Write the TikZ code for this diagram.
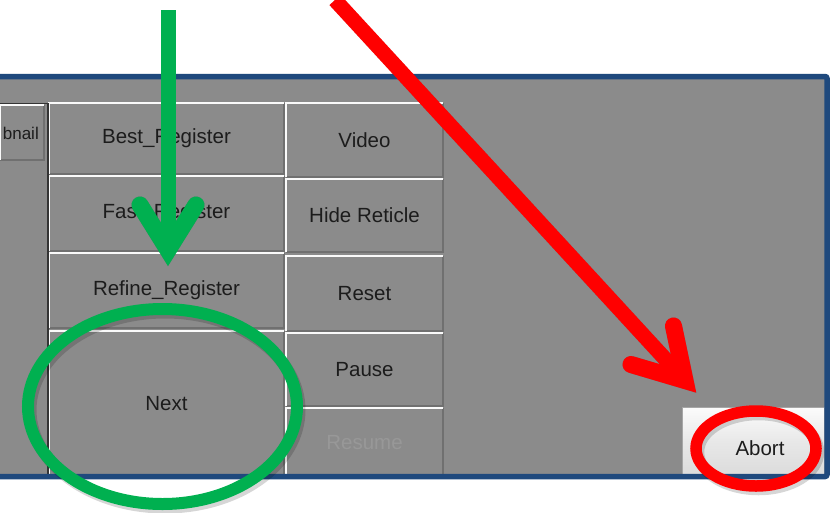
\documentclass[tikz,border=0pt]{standalone}
\usepackage{fontspec}
\setmainfont{Liberation Sans}
\usetikzlibrary{shapes.geometric}

\definecolor{panelgray}{RGB}{139,139,139}
\definecolor{panelblue}{RGB}{31,73,125}
\definecolor{edgedark}{RGB}{112,112,112}
\definecolor{framedark}{RGB}{52,52,52}
\definecolor{labeltext}{RGB}{28,28,28}
\definecolor{greyedtext}{RGB}{152,152,152}
\definecolor{markgreen}{RGB}{0,176,80}
\definecolor{markred}{RGB}{255,0,0}

\tikzset{
  btn/.style={rectangle, fill=panelgray, inner sep=0pt, outer sep=0pt,
    text=labeltext, font=\fontsize{20.5}{24}\selectfont},
  lightedge/.style={draw=white!96!gray, line width=1.6pt},
  darkedge/.style={draw=edgedark, line width=1.1pt},
  markshadow/.style={draw=black, opacity=0.16},
  arrowhead/.style={line width=17pt, line cap=round, line join=miter},
}

\begin{document}
\begin{tikzpicture}[x=1pt,y=-1pt]
\useasboundingbox (0,0) rectangle (833,512);
\fill[white] (0,0) rectangle (833,512);

% window background
\fill[panelgray] (-10,76.5) rectangle (827,476.5);

% partly hidden thumbnail button on the far left
\node[btn, minimum width=44, minimum height=55,
      font=\fontsize{17}{20}\selectfont] (thumb) at (22,132.5) {};
\node[anchor=east, inner sep=0pt, text=labeltext,
      font=\fontsize{17}{20}\selectfont] (thumbtext) at (39,133) {bnail};

% first column of buttons
\node[btn, minimum width=235, minimum height=71] (best)   at (166.5,138.5) {Best\_Register};
\node[btn, minimum width=235, minimum height=75] (fast)   at (166.5,213.5) {Fast\_Register};
\node[btn, minimum width=235, minimum height=75] (refine) at (166.5,290.5) {Refine\_Register};
\node[btn, minimum width=235, minimum height=146] (next)  at (166.5,404)   {Next};

% second column of buttons
\node[btn, minimum width=157, minimum height=74] (video)  at (364.5,140)   {Video};
\node[btn, minimum width=157, minimum height=73] (hide)   at (364.5,215.5) {Hide Reticle};
\node[btn, minimum width=157, minimum height=75] (reset)  at (364.5,293.5) {Reset};
\node[btn, minimum width=157, minimum height=73] (pause)  at (364.5,369.5) {Pause};
\node[btn, minimum width=157, minimum height=69, text=greyedtext] (resume) at (364.5,442.5) {Resume};

% raised 3D edges of the buttons
\foreach \b in {thumb,best,fast,refine,next,video,hide,reset,pause,resume}{
  \draw[darkedge] (\b.north east) -- (\b.south east) -- (\b.south west);
  \draw[lightedge] (\b.south west) -- (\b.north west) -- (\b.north east);
}

% dark frame between thumbnail area and button columns
\draw[framedark, line width=0.9pt] (0,103.5) -- (48,103.5);
\draw[framedark, line width=2pt] (48,103) -- (48,476);

% Abort button
\node[rectangle, inner sep=0pt, outer sep=0pt, draw=gray!70, line width=1pt,
      top color=white!97!gray, bottom color=gray!28, middle color=gray!18,
      minimum width=142, minimum height=68, text=labeltext,
      font=\fontsize{20.5}{24}\selectfont] (abort) at (753,441.5) {};
\node[inner sep=0pt, text=labeltext, font=\fontsize{20.5}{24}\selectfont]
      (aborttext) at (760,448) {Abort};

% window frame
\draw[panelblue, line width=5.5pt, rounded corners=2pt]
  (-10,76.5) -- (827,76.5) -- (827,476.5) -- (-10,476.5);

% annotation geometry
\coordinate (gstart) at (168,10);
\coordinate (gvert)  at (168,250);
\coordinate (garmL)  at (140,205);
\coordinate (garmR)  at (196,205);
\coordinate (rstart) at (335,0);
\coordinate (rvert)  at (685,380.5);
\coordinate (rarmA)  at (673.5,326);
\coordinate (rarmB)  at (631,364.5);

% soft shadows under the annotations
\begin{scope}[shift={(2.5,3.5)}]
  \draw[markshadow, line width=15pt] (gstart) -- (gvert);
  \draw[markshadow, arrowhead] (garmL) -- (gvert) -- (garmR);
  \draw[markshadow, line width=15pt] (rstart) -- (rvert);
  \draw[markshadow, arrowhead] (rarmA) -- (rvert) -- (rarmB);
  \draw[markshadow, line width=12pt] (162.5,406.5) ellipse [x radius=134.5, y radius=97.5];
  \draw[markshadow, line width=11.5pt] (756,448.5) ellipse [x radius=60, y radius=37.5];
\end{scope}

% green arrow pointing at Next
\draw[markgreen, line width=15pt] (gstart) -- (gvert);
\draw[markgreen, arrowhead] (garmL) -- (gvert) -- (garmR);

% red arrow pointing at Abort
\draw[markred, line width=15pt] (rstart) -- (rvert);
\draw[markred, arrowhead] (rarmA) -- (rvert) -- (rarmB);

% rings round the two buttons
\node[ellipse, draw=markgreen, line width=12pt, inner sep=0pt,
      minimum width=269, minimum height=195] (nextring) at (162.5,406.5) {};
\node[ellipse, draw=markred, line width=11.5pt, inner sep=0pt,
      minimum width=120, minimum height=75] (abortring) at (756,448.5) {};
\end{tikzpicture}
\end{document}
